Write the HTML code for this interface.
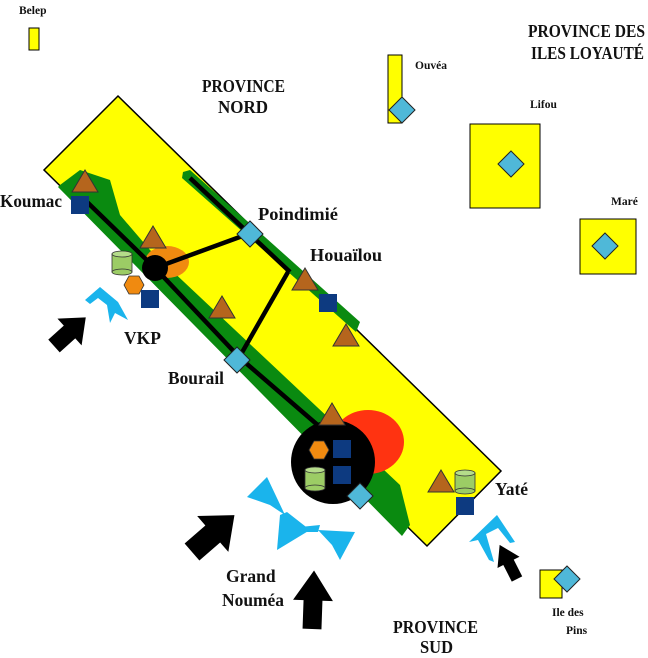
<!DOCTYPE html>
<html><head><meta charset="utf-8"><style>
body{margin:0;background:#fff;width:648px;height:653px;overflow:hidden}
svg text{font-family:"Liberation Serif",serif;font-weight:bold;fill:#111;}
</style></head><body>
<svg width="648" height="653" viewBox="0 0 648 653" xmlns="http://www.w3.org/2000/svg">
<defs>
<polygon id="ar" points="-9,0 9,0 9,-22 19,-22 0,-45 -19,-22 -9,-22" fill="#000"/>
<g id="cyl"><rect x="-10" y="-8" width="20" height="18" fill="#9ccc65" stroke="#333" stroke-width="0.8"/><ellipse cx="0" cy="10" rx="10" ry="3" fill="#9ccc65" stroke="#333" stroke-width="0.8"/><ellipse cx="0" cy="-8" rx="10" ry="3" fill="#b5dc8a" stroke="#333" stroke-width="0.8"/></g>
<polygon id="tri" points="0,-12 13,10 -13,10" fill="#b5651d" stroke="#333" stroke-width="1"/>
<rect id="sq" x="-9" y="-9" width="18" height="18" fill="#0d3a80"/>
<polygon id="dia" points="0,-13 13,0 0,13 -13,0" fill="#4fb8d8" stroke="#222" stroke-width="1"/>
<polygon id="hex" points="-5,-9 5,-9 10,0 5,9 -5,9 -10,0" fill="#f08a10" stroke="#333" stroke-width="0.8"/>
</defs>
<polygon points="118,96 501,471 427,546 44,170" fill="#ffff00" stroke="#000" stroke-width="1.5"/>
<polygon points="60,185 80,170 110,180 120,215 150,250 400,485 410,525 402,536 58,187" fill="#0a8a10"/>
<polygon points="183,172 190,170 360,322 356,332 182,178" fill="#0a8a10"/>
<ellipse cx="167" cy="262" rx="22" ry="16" fill="#f08a10"/>
<ellipse cx="368" cy="442" rx="36" ry="32" fill="#ff3311"/>
<g stroke="#000" stroke-width="4.5" fill="none">
<polyline points="85,200 155,268 240,358 335,440"/>
<line x1="155" y1="268" x2="248" y2="234"/>
<line x1="190" y1="178" x2="290" y2="272"/>
<line x1="288" y1="272" x2="240" y2="356"/>
</g>
<circle cx="155" cy="268" r="13" fill="#000"/>
<circle cx="333" cy="462" r="42" fill="#000"/>
<use href="#tri" x="85" y="182"/>
<use href="#sq" x="80" y="205"/>
<use href="#tri" x="153" y="238"/>
<use href="#cyl" x="122" y="262"/>
<use href="#hex" x="134" y="285"/>
<use href="#sq" x="150" y="299"/>
<use href="#tri" x="222" y="308"/>
<use href="#dia" x="250" y="234"/>
<use href="#tri" x="305" y="280"/>
<use href="#sq" x="328" y="303"/>
<use href="#tri" x="346" y="336"/>
<use href="#dia" x="237" y="360"/>
<use href="#tri" x="332" y="415"/>
<use href="#hex" x="319" y="450"/>
<use href="#sq" x="342" y="449"/>
<use href="#sq" x="342" y="475"/>
<use href="#cyl" x="315" y="478"/>
<use href="#dia" x="360" y="496"/>
<use href="#tri" x="441" y="482"/>
<use href="#cyl" x="465" y="481"/>
<use href="#sq" x="465" y="506"/>
<rect x="29" y="28" width="10" height="22" fill="#ffff00" stroke="#000"/>
<rect x="388" y="55" width="14" height="68" fill="#ffff00" stroke="#000"/>
<use href="#dia" x="402" y="110"/>
<rect x="470" y="124" width="70" height="84" fill="#ffff00" stroke="#000"/>
<use href="#dia" x="511" y="164"/>
<rect x="580" y="219" width="56" height="55" fill="#ffff00" stroke="#000"/>
<use href="#dia" x="605" y="246"/>
<rect x="540" y="570" width="22" height="28" fill="#ffff00" stroke="#000"/>
<use href="#dia" x="567" y="579"/>
<g fill="#1ab4ec">
<polygon points="85,300 100,287 118,302 128,320 115,313 110,323 107,305 98,298 90,304"/>
<polygon points="247,497 267,477 285,515 270,505"/>
<polygon points="280,515 287,512 310,530 277,550"/>
<polygon points="300,527 320,525 318,532 300,532"/>
<polygon points="318,530 355,532 340,560 332,545"/>
<polygon points="469,542 497,515 515,542 510,543 498,528 486,534 494,562 489,560 478,540"/>
</g>
<use href="#ar" transform="translate(54,346) rotate(48) scale(0.95)"/>
<use href="#ar" transform="translate(192,552) rotate(49) scale(1.25)"/>
<use href="#ar" transform="translate(312,629) rotate(2) scale(1.05,1.3)"/>
<use href="#ar" transform="translate(517,579) rotate(-27) scale(0.65,0.85)"/>
<g font-size="17.5">
<text x="0" y="207" textLength="62" lengthAdjust="spacingAndGlyphs">Koumac</text>
<text x="124" y="344">VKP</text>
<text x="258" y="220" textLength="80" lengthAdjust="spacingAndGlyphs">Poindimié</text>
<text x="310" y="261" textLength="72" lengthAdjust="spacingAndGlyphs">Houaïlou</text>
<text x="168" y="384" textLength="56" lengthAdjust="spacingAndGlyphs">Bourail</text>
<text x="495" y="495">Yaté</text>
<text x="226" y="582">Grand</text>
<text x="222" y="606" textLength="62" lengthAdjust="spacingAndGlyphs">Nouméa</text>
<text x="202" y="92" textLength="83" lengthAdjust="spacingAndGlyphs">PROVINCE</text>
<text x="218" y="113" textLength="50" lengthAdjust="spacingAndGlyphs">NORD</text>
<text x="528" y="37" textLength="117" lengthAdjust="spacingAndGlyphs">PROVINCE DES</text>
<text x="531" y="59" textLength="113" lengthAdjust="spacingAndGlyphs">ILES LOYAUTÉ</text>
<text x="393" y="633" textLength="85" lengthAdjust="spacingAndGlyphs">PROVINCE</text>
<text x="420" y="653" textLength="33" lengthAdjust="spacingAndGlyphs">SUD</text>
</g>
<g font-size="11.5">
<text x="19" y="14">Belep</text>
<text x="415" y="69">Ouvéa</text>
<text x="530" y="108">Lifou</text>
<text x="611" y="205">Maré</text>
<text x="552" y="616">Ile des</text>
<text x="566" y="634">Pins</text>
</g>
</svg>
</body></html>
